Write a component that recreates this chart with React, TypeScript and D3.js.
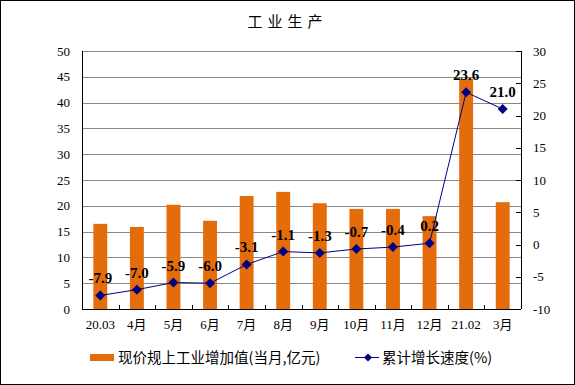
import React from "react";
import * as d3 from "d3";

const categories = ["20.03", "4月", "5月", "6月", "7月", "8月", "9月", "10月", "11月", "12月", "21.02", "3月"];
const barValues = [16.5, 15.9, 20.2, 17.1, 21.9, 22.7, 20.5, 19.4, 19.4, 18.0, 44.6, 20.7];
const lineValues = [-7.9, -7.0, -5.9, -6.0, -3.1, -1.1, -1.3, -0.7, -0.4, 0.2, 23.6, 21.0];
const leftTicks = [0, 5, 10, 15, 20, 25, 30, 35, 40, 45, 50];
const rightTicks = [-10, -5, 0, 5, 10, 15, 20, 25, 30];
const barName = "现价规上工业增加值(当月,亿元)";
const lineName = "累计增长速度(%)";
const title = "工业生产";

const W = 575;
const H = 385;
const margin = { top: 51, right: 54, bottom: 76, left: 82 };
const BAR = "#E46C0A";
const LINE = "#000080";
const SERIF = "'Liberation Serif', 'Times New Roman', 'Noto Sans CJK SC', serif";
const CJK = "'Noto Sans CJK SC', sans-serif";

// diamond marker, a bit wider than d3's symbolDiamond
const diamond = "M0,-5L5,0L0,5L-5,0Z";

const App: React.FC = () => {
  const innerW = W - margin.left - margin.right;
  const innerH = H - margin.top - margin.bottom;

  const x = d3.scaleBand<string>().domain(categories).range([0, innerW]).paddingInner(0).paddingOuter(0);
  const yL = d3.scaleLinear().domain([0, 50]).range([innerH, 0]);
  const yR = d3.scaleLinear().domain([-10, 30]).range([innerH, 0]);
  const bw = x.bandwidth() * 0.38;
  const cx = (c: string) => (x(c) as number) + x.bandwidth() / 2;

  const line = d3.line<number>()
    .x((_, i) => cx(categories[i]))
    .y(d => yR(d));

  return (
    <svg width={W} height={H} style={{ position: "absolute", left: 0, top: 0, background: "#fff" }}>
      <rect x={0.5} y={0.5} width={W - 1} height={H - 1} fill="#fff" stroke="#000" />
      <text x={W / 2} y={27} textAnchor="middle" fontFamily={CJK} fontSize={15} letterSpacing={5}>
        {title}
      </text>
      <g transform={`translate(${margin.left},${margin.top})`}>
        {/* gridlines */}
        {leftTicks.filter(t => t > 0).map(t => (
          <line key={t} x1={0} x2={innerW} y1={Math.round(yL(t)) + 0.5} y2={Math.round(yL(t)) + 0.5} stroke="#888" />
        ))}
        {/* bars */}
        {categories.map((c, i) => (
          <rect key={c} x={cx(c) - bw / 2} y={yL(barValues[i])} width={bw} height={innerH - yL(barValues[i])} fill={BAR} />
        ))}
        {/* axes */}
        <line x1={0.5} x2={0.5} y1={0} y2={innerH} stroke="#000" />
        <line x1={innerW + 0.5} x2={innerW + 0.5} y1={0} y2={innerH} stroke="#000" />
        <line x1={0} x2={innerW} y1={innerH + 0.5} y2={innerH + 0.5} stroke="#000" />
        {categories.slice(1).map(c => (
          <line key={c} x1={Math.round(x(c) as number) + 0.5} x2={Math.round(x(c) as number) + 0.5} y1={innerH - 4} y2={innerH} stroke="#000" />
        ))}
        {rightTicks.map(t => (
          <line key={t} x1={innerW - 5} x2={innerW} y1={Math.round(yR(t)) + 0.5} y2={Math.round(yR(t)) + 0.5} stroke="#000" />
        ))}
        {/* tick labels */}
        {leftTicks.map(t => (
          <text key={t} x={-12} y={yL(t)} dy="0.35em" textAnchor="end" fontFamily={SERIF} fontSize={13}>{t}</text>
        ))}
        {rightTicks.map(t => (
          <text key={t} x={innerW + 12} y={yR(t)} dy="0.35em" textAnchor="start" fontFamily={SERIF} fontSize={13}>{t}</text>
        ))}
        {categories.map(c => (
          <text key={c} x={cx(c)} y={innerH + 20} textAnchor="middle" fontFamily={SERIF} fontSize={13}>{c}</text>
        ))}
        {/* line series */}
        <path d={line(lineValues) as string} fill="none" stroke={LINE} strokeWidth={1} />
        {lineValues.map((v, i) => (
          <path key={i} d={diamond} transform={`translate(${cx(categories[i])},${yR(v)})`} fill={LINE} />
        ))}
        {lineValues.map((v, i) => (
          <text key={i} x={cx(categories[i])} y={yR(v) - 12} textAnchor="middle" fontFamily={SERIF} fontSize={15} fontWeight="bold">
            {v.toFixed(1)}
          </text>
        ))}
      </g>
      {/* legend */}
      <rect x={90} y={354} width={24} height={7} fill={BAR} />
      <text x={118} y={363} fontFamily={CJK} fontSize={14.5}>{barName}</text>
      <line x1={355} x2={379} y1={357.5} y2={357.5} stroke={LINE} />
      <path d="M0,-4L4,0L0,4L-4,0Z" transform="translate(368,357.5)" fill={LINE} />
      <text x={382} y={363} fontFamily={CJK} fontSize={14.5}>{lineName}</text>
    </svg>
  );
};

export default App;
